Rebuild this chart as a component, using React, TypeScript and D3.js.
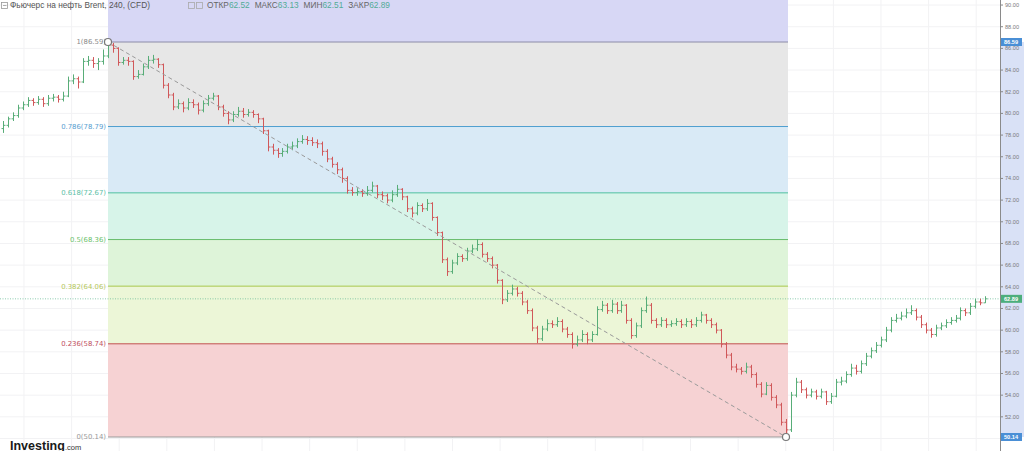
import React from "react";
import * as d3 from "d3";

const W = 1024;
const H = 451;

// Closing prices per 4h bar
const closes: number[] = [
  78.9, 79.5, 79.8, 80.5, 80.8, 81.2, 81.0, 81.3, 80.9, 81.4,
  81.5, 81.3, 81.6, 83.0, 83.2, 82.9, 84.8, 84.9, 84.6, 84.8,
  85.3, 86.3, 86.0, 84.7, 84.9, 84.8, 83.4, 83.6, 84.3, 84.9,
  85.0, 84.5, 82.6, 81.7, 80.6, 80.9, 80.5, 81.0, 80.8, 80.3,
  80.9, 81.4, 81.6, 80.6, 80.0, 79.4, 79.9, 80.2, 79.9, 80.1,
  79.9, 79.5, 78.4, 76.9, 76.6, 76.3, 76.5, 76.9, 77.0, 77.4,
  77.6, 77.5, 77.3, 77.2, 76.5, 75.8, 75.3, 74.8, 74.0, 72.9,
  72.7, 72.8, 72.6, 72.9, 73.3, 72.5, 72.4, 72.0, 72.5, 73.0,
  72.3, 71.2, 70.8, 71.5, 71.2, 71.7, 70.4, 69.0, 66.5, 65.4,
  66.2, 66.8, 66.6, 67.3, 67.5, 67.9, 67.0, 66.6, 66.0, 64.6,
  62.8, 63.4, 63.8, 63.4, 62.6, 61.8, 60.2, 59.2, 60.1, 60.6,
  60.5, 60.8, 60.1, 59.6, 58.7, 59.1, 59.6, 59.1, 59.6, 61.9,
  62.3, 61.8, 62.4, 61.8, 62.3, 60.9, 59.5, 60.4, 61.8, 62.3,
  60.9, 60.5, 60.9, 60.5, 60.6, 60.8, 60.5, 60.8, 60.5, 60.9,
  61.4, 60.9, 60.5, 60.0, 58.7, 57.7, 56.6, 56.4, 56.2, 56.6,
  55.9, 55.0, 54.1, 54.9, 53.8, 53.1, 51.5, 50.8, 54.0, 55.2,
  54.5, 54.0, 54.3, 53.9, 54.3, 53.4, 53.9, 55.2, 55.3, 55.9,
  56.5, 56.2, 56.9, 57.6, 58.1, 58.6, 59.1, 60.0, 60.9, 61.1,
  61.3, 61.6, 61.8, 61.2, 60.5, 60.0, 59.6, 60.2, 60.4, 60.7,
  60.9, 61.1, 61.8, 61.6, 62.2, 62.6, 62.52, 62.89,
];

const highs: number[] = [
  79.3, 79.7, 80.1, 80.8, 81.1, 81.5, 81.4, 81.6, 81.5, 81.7,
  81.8, 81.7, 82.0, 83.4, 83.6, 83.4, 85.1, 85.3, 85.2, 85.1,
  85.9, 86.59, 86.5, 86.1, 85.2, 85.2, 84.9, 84.0, 84.6, 85.3,
  85.4, 85.1, 84.6, 82.8, 81.9, 81.3, 81.1, 81.4, 81.3, 81.0,
  81.2, 81.7, 81.9, 81.7, 80.8, 80.2, 80.2, 80.6, 80.5, 80.4,
  80.3, 80.0, 79.6, 78.5, 77.2, 76.8, 76.8, 77.2, 77.4, 77.7,
  78.0, 77.9, 77.8, 77.6, 77.4, 76.7, 76.0, 75.5, 75.0, 74.2,
  73.2, 73.1, 73.0, 73.3, 73.7, 73.4, 72.8, 72.6, 72.9, 73.4,
  73.1, 72.4, 71.4, 71.8, 71.7, 72.1, 71.8, 70.5, 69.1, 66.7,
  66.5, 67.1, 67.0, 67.6, 67.9, 68.4, 68.1, 67.2, 66.8, 66.1,
  64.7, 63.7, 64.2, 64.0, 63.6, 62.8, 62.0, 60.4, 60.4, 61.0,
  60.9, 61.2, 61.0, 60.3, 59.8, 59.5, 60.0, 59.8, 59.9, 62.2,
  62.7, 62.5, 62.8, 62.6, 62.7, 62.4, 61.1, 60.7, 62.1, 63.1,
  62.5, 61.1, 61.2, 61.1, 60.9, 61.1, 61.0, 61.1, 61.0, 61.2,
  61.7, 61.5, 61.1, 60.7, 60.1, 58.9, 57.9, 56.9, 56.6, 57.0,
  56.8, 56.1, 55.2, 55.2, 55.1, 54.0, 53.3, 51.8, 54.3, 55.6,
  55.4, 54.7, 54.6, 54.5, 54.6, 54.4, 54.2, 55.5, 55.7, 56.2,
  56.9, 56.8, 57.2, 57.9, 58.4, 58.9, 59.4, 60.3, 61.2, 61.5,
  61.7, 62.0, 62.3, 62.0, 61.4, 60.7, 60.2, 60.5, 60.7, 61.0,
  61.2, 61.4, 62.1, 62.0, 62.5, 62.9, 62.9, 63.13,
];

const lows: number[] = [
  78.2, 78.7, 79.3, 79.6, 80.3, 80.6, 80.7, 80.8, 80.6, 80.7,
  81.1, 81.0, 81.1, 81.5, 82.7, 82.3, 82.8, 84.4, 84.2, 84.0,
  84.5, 85.1, 85.6, 84.4, 84.5, 84.4, 83.1, 83.2, 83.5, 84.1,
  84.6, 84.2, 82.3, 81.4, 80.3, 80.4, 80.1, 80.3, 80.5, 79.9,
  80.1, 80.7, 81.2, 80.3, 79.7, 79.0, 79.2, 79.7, 79.6, 79.7,
  79.6, 79.1, 78.1, 76.5, 76.2, 75.9, 76.0, 76.3, 76.6, 76.8,
  77.2, 77.1, 77.0, 76.8, 76.1, 75.5, 75.0, 74.4, 73.6, 72.6,
  72.4, 72.4, 72.3, 72.4, 72.7, 72.2, 72.0, 71.7, 71.8, 72.3,
  72.0, 70.9, 70.4, 70.6, 70.9, 71.0, 70.1, 68.7, 66.2, 65.0,
  65.2, 66.0, 66.3, 66.4, 67.1, 67.3, 66.7, 66.3, 65.7, 64.3,
  62.4, 62.6, 63.2, 63.1, 62.3, 61.5, 59.9, 58.8, 59.0, 59.9,
  60.2, 60.3, 59.8, 59.3, 58.3, 58.5, 58.9, 58.7, 58.9, 59.5,
  61.7, 61.5, 61.6, 61.5, 61.6, 60.6, 59.2, 59.3, 60.2, 61.6,
  60.6, 60.2, 60.3, 60.2, 60.3, 60.4, 60.2, 60.3, 60.2, 60.3,
  60.7, 60.6, 60.2, 59.7, 58.4, 57.4, 56.3, 56.1, 55.9, 56.0,
  55.6, 54.7, 53.8, 54.0, 53.5, 52.8, 51.2, 50.14, 50.6, 53.8,
  54.2, 53.7, 53.8, 53.6, 53.7, 53.1, 53.2, 53.8, 54.9, 55.1,
  55.7, 55.9, 56.0, 56.7, 57.4, 57.9, 58.4, 58.9, 59.8, 60.7,
  60.9, 61.1, 61.4, 60.9, 60.2, 59.7, 59.3, 59.4, 60.0, 60.2,
  60.5, 60.7, 60.9, 61.3, 61.4, 62.0, 62.3, 62.51,
];

const firstOpen = 78.6;

// Fibonacci retracement
const fibRatios: string[] = ["1", "0.786", "0.618", "0.5", "0.382", "0.236", "0"];
const fibValues: number[] = [86.59, 78.79, 72.67, 68.36, 64.06, 58.74, 50.14];
const fibLineColors: string[] = ["#8c8ca8", "#4f9fd0", "#4fbfa0", "#66bb6a", "#a9c84c", "#c0504d", "#9a9a9a"];
const fibTextColors: string[] = ["#8a8a8a", "#5aa0d0", "#5cc0a6", "#6cbf6c", "#b6c85e", "#c05060", "#999999"];
const fibFills: string[] = ["#e6e6e6", "#d7e9f6", "#d5f3e8", "#dcf3d7", "#ebf5d5", "#f5d0d1"];
const topFill = "#d5d5f4";

const peakIndex = 21;
const troughIndex = 157;

// Axis ticks
const yTicks: number[] = [90, 88, 86, 84, 82, 80, 78, 76, 74, 72, 70, 68, 66, 64, 62, 60, 58, 56, 54, 52, 50];
const lastPrice = 62.89;

const header = "Фьючерс на нефть Brent, 240, (CFD)";
const ohlcLabels: string[] = ["ОТКР", "МАКС", "МИН", "ЗАКР"];
const ohlcValues: string[] = ["62.52", "63.13", "62.51", "62.89"];

const UP = "#58ad78";
const DOWN = "#d0585a";

export default function App() {
  const plotRight = 1000;
  const y = d3.scaleLinear().domain([fibValues[6], fibValues[0]]).range([437, 42]);
  const x = d3.scaleLinear().domain([peakIndex, troughIndex]).range([108, 786]);
  const bandLeft = x(peakIndex);
  const bandRight = x(troughIndex) + 2;

  const bars = closes.map((c, i) => {
    const o = i === 0 ? firstOpen : closes[i - 1];
    return { i, o, h: highs[i], l: lows[i], c };
  });

  const vGrid = d3.range(4.15, closes.length + 1, 9.55);

  const font = "'Liberation Sans', Arial, sans-serif";

  return (
    <svg
      width={W}
      height={H}
      style={{ position: "absolute", left: 0, top: 0, background: "#fff" }}
      fontFamily={font}
    >
      <rect x={0} y={0} width={W} height={H} fill="#ffffff" />
      {/* grid */}
      {yTicks.map((t) => (
        <line key={"hg" + t} x1={0} x2={plotRight} y1={y(t)} y2={y(t)} stroke="#f2f2f4" strokeWidth={1} />
      ))}
      {vGrid.map((g, k) => (
        <line key={"vg" + k} x1={x(g)} x2={x(g)} y1={0} y2={H} stroke="#f2f2f4" strokeWidth={1} />
      ))}

      {/* fib bands */}
      <rect x={bandLeft} y={0} width={bandRight - bandLeft} height={y(fibValues[0])} fill={topFill} opacity={0.95} />
      {fibFills.map((f, k) => (
        <rect
          key={"band" + k}
          x={bandLeft}
          y={y(fibValues[k])}
          width={bandRight - bandLeft}
          height={y(fibValues[k + 1]) - y(fibValues[k])}
          fill={f}
          opacity={0.95}
        />
      ))}
      {fibValues.map((v, k) => (
        <g key={"fl" + k}>
          <line x1={bandLeft} x2={bandRight} y1={y(v)} y2={y(v)} stroke={fibLineColors[k]} strokeWidth={1} />
          <text
            x={bandLeft - 2}
            y={y(v) + 2.4}
            textAnchor="end"
            fontSize={6.9}
            fontFamily="'DejaVu Sans', sans-serif"
            fill={fibTextColors[k]}
          >
            {fibRatios[k]}({v.toFixed(2)})
          </text>
        </g>
      ))}

      {/* last price line */}
      <line x1={0} x2={plotRight} y1={y(lastPrice)} y2={y(lastPrice)} stroke="#6fbf9c" strokeWidth={0.8} strokeDasharray="1,1.5" />

      {/* OHLC bars */}
      {bars.map((b) => {
        const cx = Math.round(x(b.i)) + 0.5;
        const col = b.c >= b.o ? UP : DOWN;
        return (
          <g key={"b" + b.i} stroke={col} strokeWidth={1}>
            <line x1={cx} x2={cx} y1={y(b.h)} y2={y(b.l)} />
            <line x1={cx - 2} x2={cx} y1={y(b.o)} y2={y(b.o)} />
            <line x1={cx} x2={cx + 2} y1={y(b.c)} y2={y(b.c)} />
          </g>
        );
      })}

      {/* trend line */}
      <line
        x1={x(peakIndex)}
        y1={y(fibValues[0])}
        x2={x(troughIndex)}
        y2={y(fibValues[6])}
        stroke="#9a9a9a"
        strokeWidth={1}
        strokeDasharray="4,3"
      />
      <circle cx={x(peakIndex)} cy={y(fibValues[0])} r={3.5} fill="#fff" stroke="#777" strokeWidth={1.2} />
      <circle cx={x(troughIndex)} cy={y(fibValues[6])} r={3.5} fill="#fff" stroke="#777" strokeWidth={1.2} />

      {/* price axis */}
      <rect x={plotRight} y={0} width={W - plotRight} height={H} fill="#ffffff" />
      <rect x={plotRight} y={y(fibValues[0])} width={W - plotRight} height={y(fibValues[6]) - y(fibValues[0])} fill="#d9e1f6" />
      <line x1={plotRight + 0.5} x2={plotRight + 0.5} y1={0} y2={H} stroke="#8a8a8a" strokeWidth={1} />
      {yTicks.map((t) => (
        <g key={"yt" + t}>
          <line x1={plotRight} x2={plotRight + 3} y1={y(t)} y2={y(t)} stroke="#8a8a8a" />
          <text x={plotRight + 5} y={y(t) + 2} fontSize={5.6} fill="#7a7a7a">
            {t.toFixed(2)}
          </text>
        </g>
      ))}
      {[
        { v: fibValues[0], c: "#4a8fd6" },
        { v: lastPrice, c: "#4cae7c" },
        { v: fibValues[6], c: "#4a8fd6" },
      ].map((m, k) => (
        <g key={"pl" + k}>
          <rect x={plotRight + 1} y={y(m.v) - 4} width={21} height={8} fill={m.c} />
          <text x={plotRight + 4} y={y(m.v) + 2} fontSize={5.6} fill="#fff" fontWeight="bold">
            {m.v.toFixed(2)}
          </text>
        </g>
      ))}

      {/* header */}
      <rect x={1.5} y={2.5} width={6} height={6} fill="none" stroke="#999" strokeWidth={0.8} />
      <line x1={3} x2={6.5} y1={5.5} y2={5.5} stroke="#999" strokeWidth={0.8} />
      <text x={10} y={8} fontSize={8.3} fill="#555">
        {header}
      </text>
      <rect x={188.5} y={2.5} width={6} height={6} fill="none" stroke="#aaa" strokeWidth={0.8} />
      <rect x={196.5} y={2.5} width={6} height={6} fill="none" stroke="#aaa" strokeWidth={0.8} />
      <text x={207} y={8} fontSize={8.3} fill="#666">
        {ohlcLabels.map((l, k) => (
          <React.Fragment key={"oh" + k}>
            <tspan dx={k === 0 ? 0 : 5}>{l}</tspan>
            <tspan fill="#52ab95">{ohlcValues[k]}</tspan>
          </React.Fragment>
        ))}
      </text>

      {/* logo */}
      <text x={10} y={449.5} fontSize={12.5} fontWeight="bold" fill="#1a1a1a" fontFamily="'Liberation Sans', Arial, sans-serif">
        Investing
        <tspan fontSize={7.5} fontWeight="normal" fill="#333">.com</tspan>
      </text>
    </svg>
  );
}
